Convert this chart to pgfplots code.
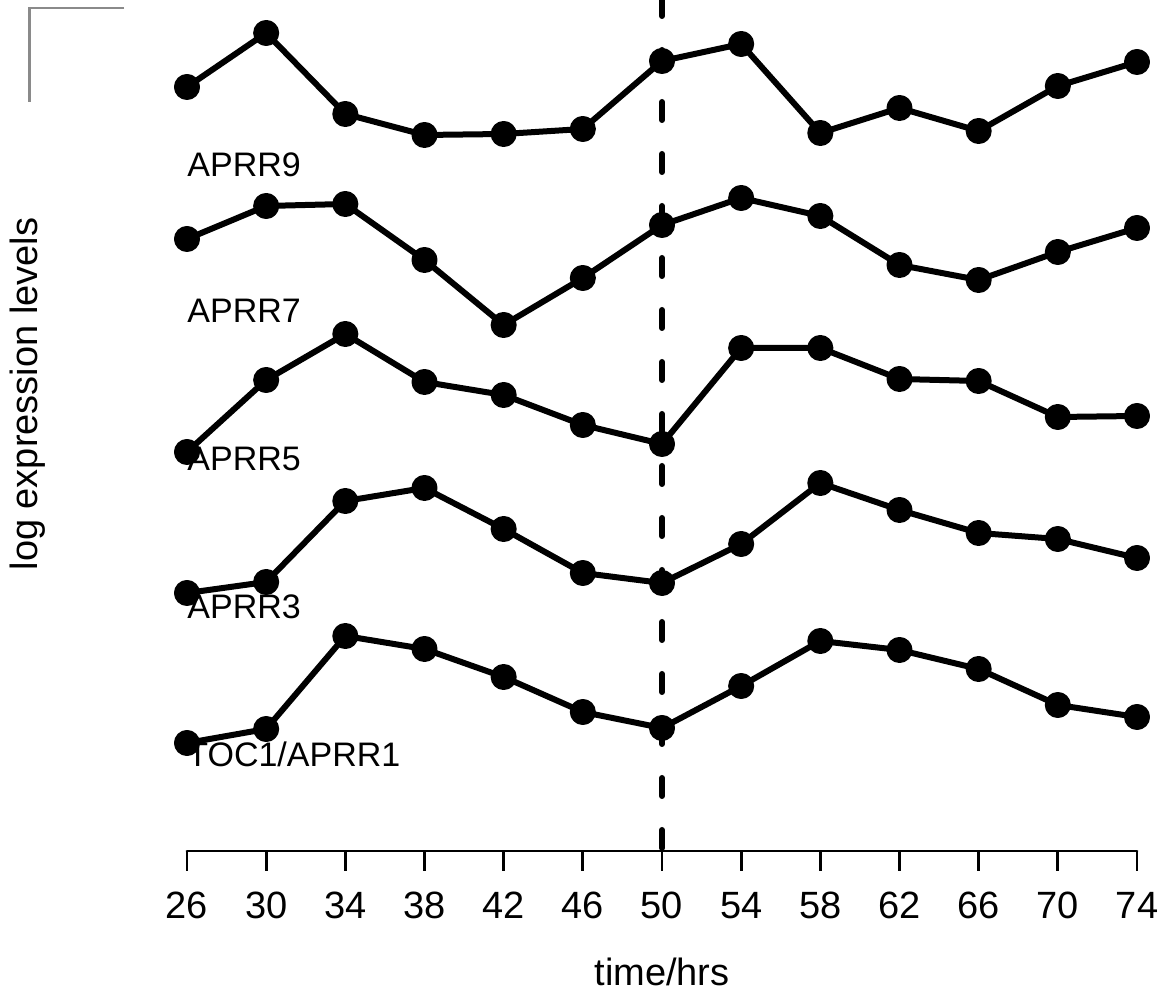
\documentclass[border=0pt]{standalone}
\usepackage{fontspec}
\setmainfont{Liberation Sans}
\usepackage{pgfplots}
\usepackage{pgfplotstable}
\pgfplotsset{compat=1.18}
\pgfplotstableread{
t   r9   r7   r5   r3   r1
26  87   239  452  593  743
30  33   206  380  582  729
34  114  204  334  501  636
38  135  260  382  488  649
42  134  325  395  529  677
46  129  278  425  573  712
50  61   225  444  583  728
54  44   198  348  544  686
58  133  216  348  483  641
62  108  265  379  510  650
66  131  280  381  533  669
70  86   252  417  539  705
74  62   228  416  558  717
}\datatable
\begin{document}
\begin{tikzpicture}
\begin{axis}[
  at={(93.5pt,71.5pt)}, anchor=south west,
  scale only axis, width=475pt, height=425.5pt,
  xmin=26, xmax=74, ymin=-851, ymax=0,
  clip=false,
  axis x line*=bottom, axis y line=none,
  x axis line style={-, line width=1.35pt, line cap=round},
  xtick={26,30,...,74}, ytick=\empty,
  tick align=outside, major tick length=10pt,
  x tick style={line width=1.35pt, black},
  /pgf/number format/assume math mode=true,
  xticklabel style={font=\fontsize{19}{21}\selectfont, yshift=-7pt},
  every axis plot/.append style={line width=3pt, black, line join=round},
]
\addplot[no marks, line width=3pt, line cap=round, dash pattern=on 9pt off 17pt, dash phase=24.5pt] coordinates {(50,-851) (50,0)};
\addplot[mark=*, mark size=5pt, mark options={solid, draw=none, fill=black}] table[x=t, y expr=-\thisrow{r9}] {\datatable};
\addplot[mark=*, mark size=5pt, mark options={solid, draw=none, fill=black}] table[x=t, y expr=-\thisrow{r7}] {\datatable};
\addplot[mark=*, mark size=5pt, mark options={solid, draw=none, fill=black}] table[x=t, y expr=-\thisrow{r5}] {\datatable};
\addplot[mark=*, mark size=5pt, mark options={solid, draw=none, fill=black}] table[x=t, y expr=-\thisrow{r3}] {\datatable};
\addplot[mark=*, mark size=5pt, mark options={solid, draw=none, fill=black}] table[x=t, y expr=-\thisrow{r1}] {\datatable};
\node[anchor=base west, inner sep=0pt, font=\fontsize{17}{19}\selectfont] at (axis cs:26,-177) {APRR9};
\node[anchor=base west, inner sep=0pt, font=\fontsize{17}{19}\selectfont] at (axis cs:26,-323) {APRR7};
\node[anchor=base west, inner sep=0pt, font=\fontsize{17}{19}\selectfont] at (axis cs:26,-471) {APRR5};
\node[anchor=base west, inner sep=0pt, font=\fontsize{17}{19}\selectfont] at (axis cs:26,-619) {APRR3};
\node[anchor=base west, inner sep=0pt, font=\fontsize{17}{19}\selectfont] at (axis cs:26,-767) {TOC1/APRR1};
\node[anchor=base, inner sep=0pt, font=\fontsize{19}{21}\selectfont, yshift=-67.5pt] at (axis cs:50,-851) {time/hrs};
\end{axis}
\node[rotate=90, anchor=base, inner sep=0pt, font=\fontsize{19}{21}\selectfont] at (18.8pt,300pt) {log expression levels};
\draw[line width=1.15pt, color={rgb,255:red,138;green,138;blue,138}] (62pt,493pt) -- (14.7pt,493pt) -- (14.7pt,446pt);
\pgfresetboundingbox
\useasboundingbox (0,0) rectangle (581pt,497pt);
\end{tikzpicture}
\end{document}
